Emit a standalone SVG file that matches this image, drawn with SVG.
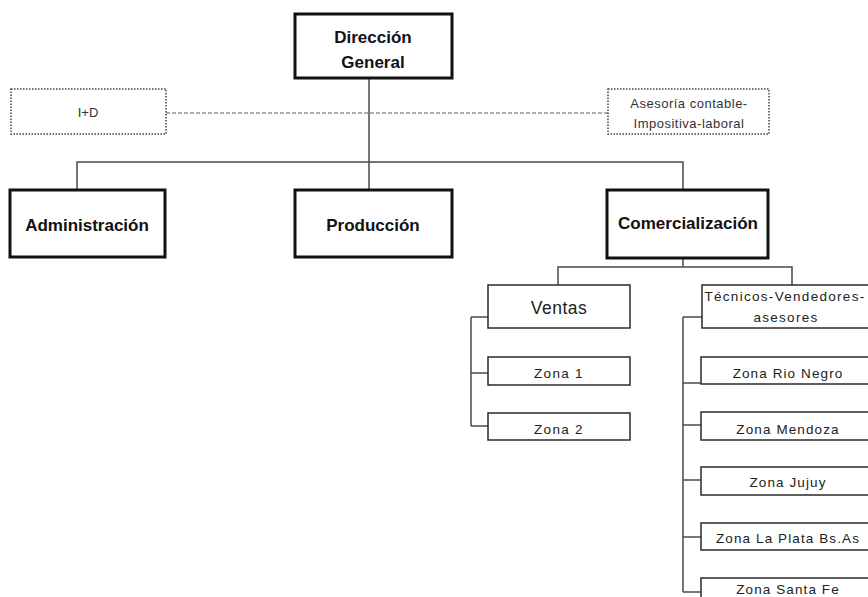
<svg xmlns="http://www.w3.org/2000/svg" width="868" height="597" viewBox="0 0 868 597">
<style>
.main{fill:#fff;stroke:#111;stroke-width:3}
.sub{fill:#fff;stroke:#2a2a2a;stroke-width:1.5}
.dot{fill:#fff;stroke:#444;stroke-width:1.5;stroke-dasharray:1.5 1.5}
.mt{font-family:"Liberation Sans",Arial,sans-serif;font-weight:bold;font-size:17px;fill:#111;text-anchor:middle}
.st{font-family:"Liberation Sans",Arial,sans-serif;font-size:13.5px;fill:#222;text-anchor:middle;letter-spacing:1.1px}
.vt{font-size:17.5px;letter-spacing:0.5px}
.tv{letter-spacing:1.3px}
.dt{font-family:"Liberation Sans",Arial,sans-serif;font-size:13px;fill:#333;text-anchor:middle}
.as{letter-spacing:0.5px}
.ln{fill:none;stroke:#4a4a4a;stroke-width:1.5}
.dash{fill:none;stroke:#8a96a4;stroke-width:1.3;stroke-dasharray:4 2}
</style>
<rect width="868" height="597" fill="#fff"/>
<g id="connectors">
<line class="dash" x1="166" y1="113" x2="608" y2="113"/>
<line class="ln" x1="369" y1="78" x2="369" y2="190"/>
<polyline class="ln" points="77,190 77,162 683,162 683,190"/>
<line class="ln" x1="683" y1="258" x2="683" y2="267"/>
<polyline class="ln" points="558,285 558,267 792,267 792,285"/>
<line class="ln" x1="471" y1="317" x2="471" y2="426"/>
<line class="ln" x1="471" y1="317" x2="488" y2="317"/>
<line class="ln" x1="471" y1="373" x2="488" y2="373"/>
<line class="ln" x1="471" y1="426" x2="488" y2="426"/>
<line class="ln" x1="683" y1="317" x2="683" y2="592"/>
<line class="ln" x1="683" y1="317" x2="702" y2="317"/>
<line class="ln" x1="683" y1="383" x2="702" y2="383"/>
<line class="ln" x1="683" y1="425" x2="702" y2="425"/>
<line class="ln" x1="683" y1="480" x2="702" y2="480"/>
<line class="ln" x1="683" y1="537" x2="702" y2="537"/>
<line class="ln" x1="683" y1="592" x2="702" y2="592"/>
</g>
<g id="direccion">
<rect class="main" x="295" y="14" width="157" height="64"/>
<text class="mt" x="373" y="43">Dirección</text>
<text class="mt" x="373" y="68">General</text>
</g>
<g id="id">
<rect class="dot" x="11" y="89" width="155" height="45"/>
<text class="dt" x="88" y="117">I+D</text>
</g>
<g id="asesoria">
<rect class="dot" x="608" y="89" width="161" height="45"/>
<text class="dt as" x="689" y="108">Asesoría contable-</text>
<text class="dt as" x="689" y="128">Impositiva-laboral</text>
</g>
<g id="administracion">
<rect class="main" x="10" y="190" width="155" height="67"/>
<text class="mt" x="87" y="231">Administración</text>
</g>
<g id="produccion">
<rect class="main" x="295" y="190" width="157" height="67"/>
<text class="mt" x="373" y="231">Producción</text>
</g>
<g id="comercializacion">
<rect class="main" x="607" y="190" width="161" height="68"/>
<text class="mt" x="688" y="229">Comercialización</text>
</g>
<g id="ventas">
<rect class="sub" x="488" y="285" width="142" height="43"/>
<text class="st vt" x="559" y="314">Ventas</text>
</g>
<g id="zona1">
<rect class="sub" x="488" y="357" width="142" height="28"/>
<text class="st tv" x="559" y="378">Zona 1</text>
</g>
<g id="zona2">
<rect class="sub" x="488" y="413" width="142" height="27"/>
<text class="st tv" x="559" y="434">Zona 2</text>
</g>
<g id="tecnicos">
<rect class="sub" x="702" y="285" width="172" height="43"/>
<text class="st tv" x="785" y="301">Técnicos-Vendedores-</text>
<text class="st tv" x="786" y="322">asesores</text>
</g>
<g id="rionegro">
<rect class="sub" x="701" y="357" width="173" height="27"/>
<text class="st" x="788" y="378">Zona Rio Negro</text>
</g>
<g id="mendoza">
<rect class="sub" x="701" y="412" width="173" height="28"/>
<text class="st" x="788" y="434">Zona Mendoza</text>
</g>
<g id="jujuy">
<rect class="sub" x="701" y="467" width="173" height="28"/>
<text class="st" x="788" y="487">Zona Jujuy</text>
</g>
<g id="laplata">
<rect class="sub" x="701" y="523" width="173" height="27"/>
<text class="st" x="788" y="543">Zona La Plata Bs.As</text>
</g>
<g id="santafe">
<rect class="sub" x="701" y="578" width="173" height="30"/>
<text class="st" x="788" y="594">Zona Santa Fe</text>
</g>
</svg>
